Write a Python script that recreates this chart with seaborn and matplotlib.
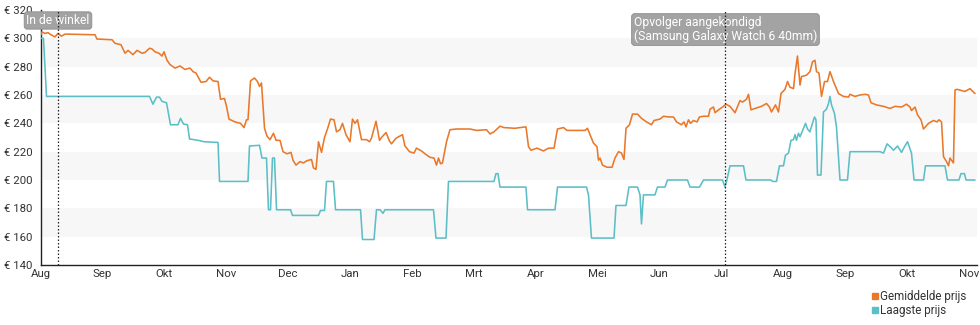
import matplotlib
matplotlib.use("Agg")
import matplotlib.pyplot as plt
from matplotlib.lines import Line2D
import pandas as pd
import seaborn as sns

# Month labels along the x axis (Aug 2022 .. Nov 2023)
months = ["Aug", "Sep", "Okt", "Nov", "Dec", "Jan", "Feb", "Mrt", "Apr",
          "Mei", "Jun", "Jul", "Aug", "Sep", "Okt", "Nov"]

# Average price: position in months since Aug 2022, price in euro
avg_t = [0, 0.024, 0.073, 0.121, 0.170, 0.234, 0.283, 0.339, 0.396, 0.880, 0.913,
         1.155, 1.204, 1.300, 1.365, 1.414, 1.494, 1.559, 1.640, 1.688, 1.761, 1.801,
         1.850, 1.914, 1.963, 1.995, 2.044, 2.092, 2.173, 2.254, 2.334, 2.415, 2.464,
         2.512, 2.593, 2.674, 2.730, 2.787, 2.868, 2.908, 2.973, 3.005, 3.045, 3.142,
         3.231, 3.288, 3.328, 3.352, 3.393, 3.457, 3.506, 3.538, 3.570, 3.619, 3.659,
         3.708, 3.764, 3.805, 3.869, 3.918, 3.982, 4.047, 4.079, 4.128, 4.192, 4.249,
         4.297, 4.378, 4.410, 4.451, 4.491, 4.540, 4.588, 4.636, 4.685, 4.742, 4.782,
         4.838, 4.879, 4.935, 5.000, 5.040, 5.081, 5.121, 5.186, 5.267, 5.315, 5.347,
         5.420, 5.477, 5.509, 5.582, 5.638, 5.670, 5.743, 5.808, 5.848, 5.888, 5.961,
         6.034, 6.074, 6.155, 6.212, 6.292, 6.357, 6.397, 6.430, 6.462, 6.494, 6.559,
         6.615, 6.720, 6.939, 7.044, 7.205, 7.262, 7.326, 7.423, 7.488, 7.665, 7.746,
         7.843, 7.884, 7.924, 8.021, 8.126, 8.207, 8.296, 8.352, 8.449, 8.506, 8.796,
         8.837, 8.877, 8.934, 8.990, 9.014, 9.039, 9.079, 9.152, 9.233, 9.281, 9.338,
         9.386, 9.426, 9.459, 9.515, 9.564, 9.645, 9.709, 9.790, 9.871, 9.911, 10.008,
         10.065, 10.145, 10.226, 10.275, 10.355, 10.396, 10.428, 10.468, 10.501, 10.549,
         10.606, 10.646, 10.711, 10.792, 10.816, 10.872, 10.897, 10.953, 11.018, 11.074,
         11.139, 11.220, 11.300, 11.341, 11.405, 11.438, 11.478, 11.543, 11.648, 11.729,
         11.777, 11.809, 11.874, 11.922, 11.963, 12.027, 12.068, 12.108, 12.165, 12.189,
         12.229, 12.270, 12.294, 12.375, 12.431, 12.472, 12.512, 12.536, 12.577, 12.617,
         12.666, 12.714, 12.754, 12.811, 12.892, 12.972, 13.053, 13.077, 13.158, 13.239,
         13.320, 13.376, 13.417, 13.506, 13.619, 13.724, 13.805, 13.909, 13.990, 14.047,
         14.071, 14.128, 14.168, 14.224, 14.265, 14.346, 14.426, 14.483, 14.515, 14.556,
         14.588, 14.636, 14.669, 14.693, 14.749, 14.774, 14.806, 14.935, 15.016, 15.097]
avg_price = [302, 304.5, 303.5, 304, 302.5, 301, 303.5, 301.5, 303, 302.5, 299.5,
             299, 296.5, 295.5, 289.5, 291.5, 288.5, 291.5, 289.5, 290, 293, 292.5,
             290.5, 289.5, 287.5, 290.5, 284.5, 281.5, 279, 280.5, 278, 279, 276.5,
             275.5, 269, 269.5, 272.5, 270, 269.5, 257, 257.5, 252, 243, 241,
             240, 237, 242.5, 242.5, 270, 272, 269.5, 266, 268.5, 236.5, 231,
             228.5, 233, 228, 228, 220, 218.5, 219.5, 214, 210.5, 213, 212,
             213.5, 214.5, 208.5, 207.5, 227, 219.5, 230, 236, 243, 242.5, 234,
             235.5, 240, 232, 227, 243, 240, 242.5, 228.5, 228.5, 227, 229.5,
             241.5, 228, 230, 233.5, 227.5, 225.5, 229.5, 231, 232, 224, 220,
             219, 222.5, 220.5, 218.5, 216, 215.5, 210.5, 215.5, 211.5, 212, 227,
             235.5, 236, 236, 235, 235.5, 232.5, 234, 238, 237, 236.5, 237,
             237.5, 223.5, 221, 222.5, 220.5, 222.5, 222.5, 236, 237, 235, 235,
             236.5, 232, 226, 223.5, 214, 215.5, 210.5, 209, 209, 215.5, 220,
             219, 214.5, 236.5, 239, 246.5, 246.5, 243.5, 241, 239, 242, 243,
             245, 244.5, 244.5, 241, 239, 241, 237.5, 242.5, 240, 242,
             241, 244.5, 245, 245, 250, 251.5, 247.5, 249.5, 251.5, 253.5,
             252, 247.5, 256, 255, 257, 260.5, 249.5, 250.5, 252, 254,
             251.5, 248, 253, 248, 261, 264, 269.5, 265.5, 264.5, 275,
             287.5, 267, 273, 274, 276.5, 283.5, 284.5, 276.5, 275.5, 259,
             269.5, 269.5, 276.5, 269.5, 261, 259, 258.5, 260.5, 259, 260,
             260.5, 260, 254.5, 253, 252, 250.5, 252, 251.5, 253.5, 251.5,
             249, 251.5, 246, 242.5, 236, 240, 242, 241, 242.5, 241,
             216.5, 213, 210, 215.5, 212, 263.5, 264, 262.5, 264.5, 261]

# Lowest price
low_t = [0, 0.048, 0.097, 1.761, 1.817, 1.874, 1.922, 1.963, 2.036, 2.100, 2.221,
         2.262, 2.310, 2.375, 2.407, 2.544, 2.649, 2.868, 2.892, 3.352, 3.376, 3.538,
         3.578, 3.651, 3.683, 3.716, 3.748, 3.780, 3.813, 4.039, 4.071, 4.491, 4.523,
         4.588, 4.620, 4.733, 4.766, 5.170, 5.202, 5.388, 5.428, 5.485, 5.533, 5.565,
         6.349, 6.389, 6.551, 6.591, 7.326, 7.358, 7.391, 7.423, 7.843, 7.868, 8.312,
         8.352, 8.821, 8.853, 8.901, 9.265, 9.297, 9.459, 9.507, 9.645, 9.685, 9.709,
         9.741, 9.927, 9.967, 10.089, 10.129, 10.452, 10.493, 10.646, 10.711, 11.018,
         11.058, 11.083, 11.139, 11.357, 11.397, 11.801, 11.825, 11.890, 11.938, 12.003,
         12.035, 12.084, 12.124, 12.165, 12.189, 12.213, 12.245, 12.270, 12.326, 12.359,
         12.391, 12.431, 12.464, 12.504, 12.528, 12.552, 12.609, 12.649, 12.698, 12.730,
         12.754, 12.779, 12.827, 12.859, 12.916, 13.037, 13.077, 13.562, 13.619, 13.676,
         13.740, 13.781, 13.846, 13.909, 13.958, 14.007, 14.071, 14.112, 14.265, 14.297,
         14.612, 14.653, 14.838, 14.870, 14.927, 14.952, 15.097]
low_price = [300, 300, 259, 259, 253.5, 258.5, 258.5, 255.5, 254.5, 239, 239,
             243.5, 239.5, 239, 229, 228, 227, 226.5, 199, 199, 224, 224.5,
             215.5, 215.5, 179, 179, 215.5, 215.5, 179, 179, 175, 175, 178.5,
             178.5, 199, 199, 179, 179, 158, 158, 179, 179, 176.5, 179,
             179, 159, 159, 199, 199, 204.5, 204.5, 195, 195, 179, 179,
             195, 195, 189.5, 159, 159, 182, 182, 195, 195, 189.5, 169,
             189.5, 189.5, 195, 195, 200, 200, 195, 195, 200, 200,
             195, 199, 210, 210, 200, 200, 199, 199, 210, 210,
             217.5, 219, 228, 228.5, 232, 228, 233, 230.5, 236.5, 240,
             236, 234, 239, 244.5, 242.5, 203.5, 203.5, 248, 250, 254,
             259, 253, 247, 237.5, 200, 200, 220, 220, 219, 225.5,
             223, 221, 224, 219.5, 223.5, 227, 219, 200, 200, 210,
             210, 200, 200, 204.5, 204.5, 200, 200]

# Events marked with a dotted line
events = [(0.283, "In de winkel", 312.6),
          (11.066, "Opvolger aangekondigd\n(Samsung Galaxy Watch 6 40mm)", 306.2)]

series_names = ["Gemiddelde prijs", "Laagste prijs"]
y_ticks = [140, 160, 180, 200, 220, 240, 260, 280, 300, 320]
shaded_bands = [(160, 180), (200, 220), (240, 260), (280, 300)]

ORANGE = "#e9782a"
TEAL = "#5cbec6"
TEXT = "#333333"

df = pd.concat([
    pd.DataFrame({"t": avg_t, "prijs": avg_price, "reeks": series_names[0]}),
    pd.DataFrame({"t": low_t, "prijs": low_price, "reeks": series_names[1]}),
])

sns.set_style("white")
plt.rcParams["font.family"] = ["Roboto", "DejaVu Sans"]

fig = plt.figure(figsize=(9.8, 3.25), dpi=100)
ax = fig.add_axes([40.5 / 980, 1 - 265 / 325, (977 - 40.5) / 980, 255 / 325])

for lo, hi in shaded_bands:
    ax.axhspan(lo, hi, color="#f7f7f7", lw=0, zorder=0)

sns.lineplot(data=df, x="t", y="prijs", hue="reeks", hue_order=series_names,
             palette=[ORANGE, TEAL], estimator=None, sort=False, lw=1.15,
             legend=False, ax=ax, zorder=3)

ax.set_xlim(0, (977 - 40.5) / 61.9)
ax.set_ylim(140, 320)
ax.set_xlabel("")
ax.set_ylabel("")

ax.set_xticks(range(len(months)))
ax.set_xticklabels(months)
ax.set_xticks([i / 30 for i in range(0, 454)], minor=True)
ax.set_yticks(y_ticks)
ax.set_yticklabels([f"€ {v}" for v in y_ticks])

for side in ("top", "right"):
    ax.spines[side].set_visible(False)
for side in ("left", "bottom"):
    ax.spines[side].set_color("#222222")
    ax.spines[side].set_linewidth(1.0)

ax.tick_params(axis="y", direction="out", length=4, width=1, color="#222222",
               labelsize=8.2, labelcolor=TEXT, pad=1.5)
ax.tick_params(axis="x", which="major", direction="inout", length=5, width=1,
               color="#222222", labelsize=8.2, labelcolor=TEXT, pad=0.5)
ax.tick_params(axis="x", which="minor", direction="out", length=1.5, width=0.5,
               color="#888888")

for t, label, ymid in events:
    ax.axvline(t, color="#222222", lw=0.9, ls=(0, (1.2, 1.6)), zorder=5)
    ax.text(t, ymid, label, ha="center", va="center", ma="left", fontsize=8.7,
            color="white", linespacing=1.1, zorder=4, clip_on=False,
            bbox=dict(boxstyle="round,pad=0.18,rounding_size=0.25",
                      fc="#a3a3a3", ec="#8f8f8f", lw=0.6))

handles = [Line2D([], [], marker="s", ls="", color=c, markersize=4.5)
           for c in (ORANGE, TEAL)]
fig.legend(handles, series_names, loc="upper left",
           bbox_to_anchor=(871 / 980, 1 - 290 / 325), frameon=False,
           fontsize=8.4, handlelength=0.6, handletextpad=0.2,
           labelspacing=0.1, borderpad=0, borderaxespad=0,
           labelcolor=TEXT)

fig.savefig("out.png", dpi=100)
